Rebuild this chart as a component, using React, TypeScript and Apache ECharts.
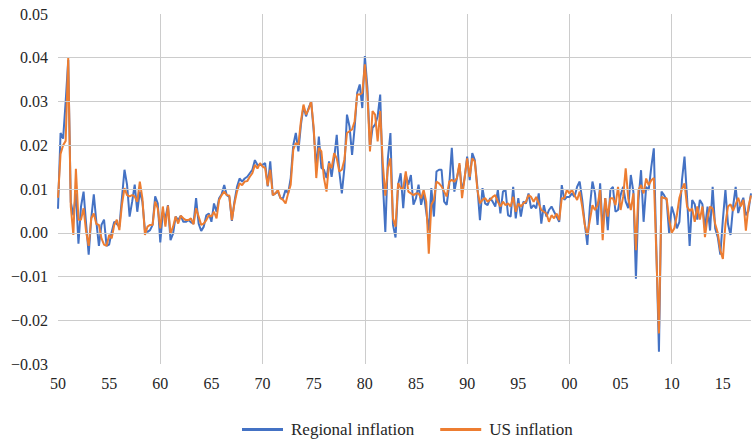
import { useEffect, useRef } from "react";
import * as echarts from "echarts";

// Quarterly categories 1950Q1 .. 2017Q4
const quarters: string[] = [];
for (let y = 1950; y <= 2017; y++) {
  for (let q = 1; q <= 4; q++) quarters.push(`${y}Q${q}`);
}

const xTickLabels = ["50", "55", "60", "65", "70", "75", "80", "85", "90", "95", "00", "05", "10", "15"];
const yGridValues = [-0.02, -0.01, 0, 0.01, 0.02, 0.03, 0.04];

const regional = [
  0.0055, 0.0228, 0.0215, 0.030, 0.0395, 0.007, 0.004, 0.009, -0.0025, 0.006,
  0.0094, 0.002, -0.005, 0.0033, 0.0088, 0.0025, -0.003, 0.0018, 0.003, -0.003,
  -0.0027, 0.0002, 0.0025, 0.002, 0.0014, 0.0079, 0.0144, 0.011, 0.0037, 0.0071,
  0.011, 0.0048, 0.0094, 0.0071, 0.0006, 0.0002, 0.0006, 0.0018, 0.0083, 0.0067,
  -0.0022, 0.0048, 0.0033, 0.0063, -0.0017, -0.0002, 0.0037, 0.0029, 0.0039, 0.0025,
  0.0025, 0.0029, 0.0024, 0.0021, 0.0079, 0.0021, 0.0004, 0.0014, 0.004, 0.0044,
  0.0025, 0.0067, 0.0048, 0.0079, 0.0088, 0.0109, 0.0086, 0.0082, 0.0027, 0.0071,
  0.0105, 0.0124, 0.0117, 0.0124, 0.0128, 0.0136, 0.0144, 0.0166, 0.0155, 0.0155,
  0.0155, 0.0159, 0.0106, 0.0163, 0.0086, 0.009, 0.0094, 0.0079, 0.0079, 0.0098,
  0.009, 0.0125, 0.020, 0.0228, 0.0186, 0.0247, 0.0289, 0.0266, 0.0285, 0.030,
  0.0232, 0.0148, 0.022, 0.0148, 0.0144, 0.0125, 0.0163, 0.0128, 0.017, 0.0224,
  0.014, 0.009, 0.0148, 0.027, 0.0243, 0.0178, 0.024, 0.032, 0.0339, 0.0285,
  0.0404, 0.0331, 0.0194, 0.024, 0.0247, 0.0266, 0.0316, 0.012, 0.0002, 0.017,
  0.0228, 0.0018, -0.0011, 0.011, 0.0136, 0.0056, 0.0132, 0.011, 0.0132, 0.0064,
  0.0079, 0.011, 0.0064, 0.009, 0.0048, 0.0005, 0.0102, 0.0037, 0.014, 0.0144,
  0.0144, 0.0071, 0.0064, 0.011, 0.0194, 0.0094, 0.0125, 0.0155, 0.0094, 0.0125,
  0.0174, 0.012, 0.0182, 0.0166, 0.0105, 0.0029, 0.0102, 0.0067, 0.0063, 0.0079,
  0.0071, 0.006, 0.0098, 0.0044, 0.0094, 0.0098, 0.004, 0.0037, 0.0105, 0.0033,
  0.0079, 0.0037, 0.0071, 0.0067, 0.009, 0.0056, 0.0063, 0.0056, 0.009, 0.0021,
  0.0063, 0.0037, 0.0052, 0.006, 0.0048, 0.0037, 0.0025, 0.0109, 0.0075, 0.0082,
  0.0082, 0.009, 0.0082, 0.0105, 0.0117, 0.0075, 0.0021, -0.0028, 0.006, 0.0117,
  0.009, 0.0018, 0.0113, 0.0006, 0.0079, 0.0006, 0.0098, 0.0105, 0.0048, 0.0052,
  0.0086, 0.0105, 0.0071, 0.0056, 0.0132, 0.0094, -0.0105, 0.0075, 0.0143, 0.0025,
  0.0105, 0.0098, 0.015, 0.0193, -0.004, -0.0272, 0.0094, 0.0086, 0.0075, -0.0002,
  0.006, 0.004, 0.001, 0.0025, 0.012, 0.0174, 0.008, -0.003, 0.0075, 0.0065,
  0.003, 0.0075, 0.0065, 0.001, 0.006, 0.0005, 0.0105, 0.001, -0.001, -0.005,
  0.003, 0.0098, 0.002, -0.0005, 0.006, 0.0105, 0.0045, 0.0065, 0.008, 0.004,
  0.005, 0.009,
];

const us = [
  0.008, 0.018, 0.020, 0.021, 0.040, 0.006, -0.0005, 0.0146, 0.003, 0.003,
  0.0056, 0.0002, -0.003, 0.0033, 0.0044, 0.002, 0.0018, -0.0013, -0.0027, -0.003,
  -0.0005, -0.0013, 0.0018, 0.003, 0.0006, 0.0064, 0.0102, 0.0086, 0.0083, 0.0086,
  0.0083, 0.0071, 0.0117, 0.0079, -0.0005, 0.0014, 0.0018, 0.0018, 0.0071, 0.0056,
  0.001, 0.006, 0.0014, 0.0062, -0.0002, 0.0014, 0.0037, 0.0021, 0.0039, 0.0033,
  0.0029, 0.0029, 0.0033, 0.0019, 0.0056, 0.0037, 0.0018, 0.0021, 0.0029, 0.004,
  0.0037, 0.0048, 0.0033, 0.0075, 0.0086, 0.0094, 0.0086, 0.0085, 0.0029, 0.0067,
  0.0094, 0.0113, 0.0109, 0.0117, 0.0118, 0.0128, 0.0136, 0.0155, 0.0147, 0.0159,
  0.0151, 0.0148, 0.0108, 0.0144, 0.0086, 0.009, 0.0098, 0.0079, 0.0075, 0.0067,
  0.009, 0.011, 0.019, 0.0205, 0.0201, 0.0255, 0.0293, 0.027, 0.0282, 0.030,
  0.024, 0.0125, 0.0194, 0.0186, 0.0125, 0.0094, 0.0159, 0.0148, 0.0182, 0.017,
  0.014, 0.0144, 0.0167, 0.0228, 0.0232, 0.0236, 0.0255, 0.0316, 0.0316, 0.032,
  0.0385, 0.0316, 0.0186, 0.0278, 0.027, 0.0209, 0.0278, 0.016, 0.0085, 0.0148,
  0.017, 0.0033, 0.0014, 0.0113, 0.0102, 0.0102, 0.014, 0.0094, 0.009, 0.0086,
  0.009, 0.009, 0.0079, 0.0098, 0.0071, -0.0048, 0.0064, 0.0075, 0.0117, 0.0113,
  0.0106, 0.0094, 0.0083, 0.0117, 0.0121, 0.0117, 0.0125, 0.0159, 0.0079, 0.0125,
  0.017, 0.0128, 0.017, 0.0163, 0.0098, 0.0067, 0.0075, 0.0079, 0.0071, 0.0075,
  0.0082, 0.0086, 0.0071, 0.006, 0.0071, 0.0063, 0.0067, 0.006, 0.0082, 0.0048,
  0.0067, 0.006, 0.0067, 0.0071, 0.0086, 0.0082, 0.0071, 0.0082, 0.0067, 0.0052,
  0.0048, 0.0044, 0.0025, 0.004, 0.0033, 0.0044, 0.0029, 0.0079, 0.0079, 0.0098,
  0.009, 0.0098, 0.0086, 0.0075, 0.0094, 0.006, 0.0018, -0.0005, 0.0029, 0.0063,
  0.0052, 0.0063, 0.0098, -0.0017, 0.0079, 0.0037, 0.0079, 0.0079, 0.0063, 0.0105,
  0.0052, 0.0082, 0.0147, 0.0079, 0.0052, 0.009, -0.004, 0.0098, 0.0109, 0.009,
  0.0124, 0.0109, 0.012, 0.0125, -0.005, -0.023, 0.0082, 0.0079, 0.0079, 0.003,
  0.0, 0.001, 0.004, 0.008, 0.010, 0.0113, 0.006, 0.005, 0.0055, 0.0025,
  0.006, 0.003, 0.006, -0.001, 0.0035, 0.006, 0.0055, 0.002, 0.0, -0.004,
  -0.006, 0.002, 0.006, 0.0065, 0.005, 0.0065, 0.008, 0.006, 0.0075, 0.0005,
  0.006, 0.0085,
];

const FONT = "serif";
const TEXT_COLOR = "#262626";
const GRID_COLOR = "#cccccc";

const fmtY = (v: number) => (v < -1e-9 ? "\u2212" : "") + Math.abs(v).toFixed(2);

const fontCss =
  "#root svg text, #root svg tspan { font-family: 'Liberation Serif', 'Times New Roman', serif !important; }";

export default function App() {
  const ref = useRef<HTMLDivElement>(null);

  useEffect(() => {
    document.body.style.margin = "0";
    const chart = echarts.init(ref.current!, undefined, { renderer: "svg" });
    chart.setOption({
      animation: false,
      textStyle: { fontFamily: FONT },
      grid: { left: 58, right: 2, top: 14, bottom: 78 },
      legend: {
        data: ["Regional inflation", "US inflation"],
        left: 237,
        top: 416,
        icon: "rect",
        itemWidth: 41,
        itemHeight: 3,
        itemGap: 26,
        textStyle: { fontFamily: FONT, fontSize: 17, color: TEXT_COLOR, padding: [0, 0, 0, 3] },
      },
      xAxis: {
        type: "category",
        data: quarters,
        boundaryGap: false,
        axisLine: { show: false },
        axisTick: { show: false },
        axisLabel: {
          interval: (i: number) => i % 20 === 0,
          formatter: (_v: string, i: number) => xTickLabels[Math.round(i / 20)] ?? "",
          fontFamily: FONT,
          fontSize: 16,
          color: TEXT_COLOR,
          margin: 11,
        },
        splitLine: {
          show: true,
          interval: (i: number) => i % 40 === 0 && i > 0,
          lineStyle: { color: GRID_COLOR, width: 1 },
        },
      },
      yAxis: {
        type: "value",
        min: -0.03,
        max: 0.05,
        interval: 0.01,
        axisLine: { show: false },
        axisTick: { show: false },
        splitLine: { show: false },
        axisLabel: {
          formatter: fmtY,
          fontFamily: FONT,
          fontSize: 16,
          color: TEXT_COLOR,
          margin: 10,
        },
      },
      series: [
        {
          type: "line",
          data: quarters.map(() => null),
          silent: true,
          symbol: "none",
          z: 1,
          markLine: {
            silent: true,
            symbol: "none",
            label: { show: false },
            lineStyle: { color: GRID_COLOR, width: 1, type: "solid" },
            emphasis: { disabled: true },
            data: yGridValues.map((v) => ({ yAxis: v })),
          },
        },
        {
          name: "Regional inflation",
          type: "line",
          data: regional,
          symbol: "none",
          z: 3,
          lineStyle: { color: "#4472C4", width: 2 },
          itemStyle: { color: "#4472C4" },
        },
        {
          name: "US inflation",
          type: "line",
          data: us,
          symbol: "none",
          z: 4,
          lineStyle: { color: "#ED7D31", width: 2 },
          itemStyle: { color: "#ED7D31" },
        },
      ],
    });
    return () => chart.dispose();
  }, []);

  return (
    <>
      <style>{fontCss}</style>
      <div ref={ref} style={{ width: 753, height: 442 }} />
    </>
  );
}
